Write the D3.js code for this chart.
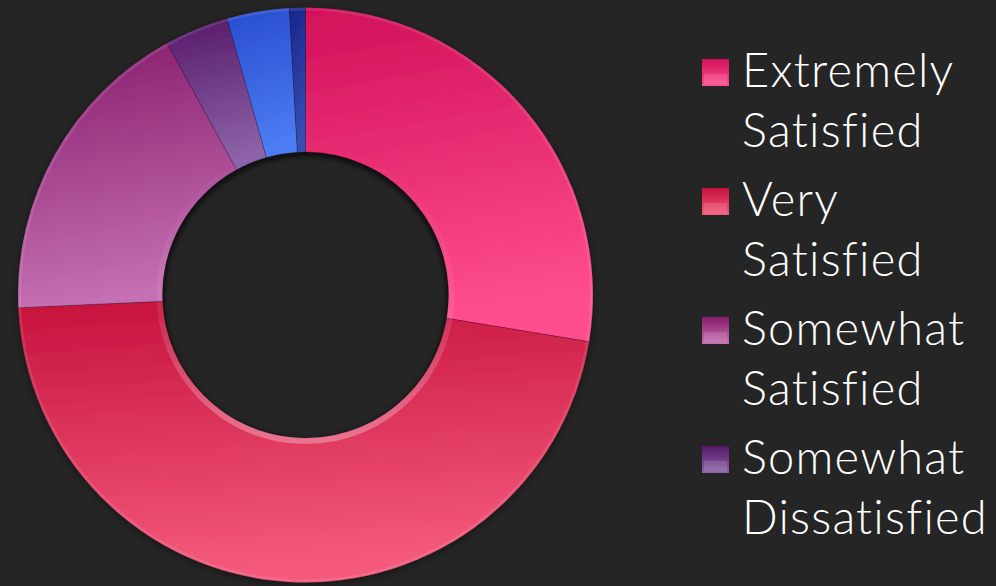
<!DOCTYPE html>
<html>
<head>
<meta charset="utf-8">
<script src="https://cdn.jsdelivr.net/npm/d3@7"></script>
<style>
  html, body { margin: 0; padding: 0; background: #252525; overflow: hidden; }
  svg { display: block; }
</style>
</head>
<body>
<svg id="chart" width="996" height="586"></svg>
<script>
// Survey responses: share of respondents (%) by satisfaction level
const categories = [
  "Extremely Satisfied",
  "Very Satisfied",
  "Somewhat Satisfied",
  "Somewhat Dissatisfied",
  "Very Dissatisfied",
  "Extremely Dissatisfied"
];
const legendLines = [
  ["Extremely", "Satisfied"],
  ["Very", "Satisfied"],
  ["Somewhat", "Satisfied"],
  ["Somewhat", "Dissatisfied"],
  ["Very", "Dissatisfied"],
  ["Extremely", "Dissatisfied"]
];
const values = [27.6, 46.7, 17.7, 3.6, 3.5, 0.9];
// gradient stops per slice: darker top, lighter bottom
const topColors    = ["#d2105a", "#c5123c", "#871c6c", "#561868", "#274cce", "#18248a"];
const bottomColors = ["#ff4e8e", "#f55a7b", "#c56fb2", "#8c62a8", "#4c7cf2", "#3650b4"];

const W = 996, H = 586;
const cx = 305.5, cy = 295;
const outerR = 287.5, innerR = 143;

const svg = d3.select("#chart");
svg.append("rect").attr("width", W).attr("height", H).attr("fill", "#252525");

const defs = svg.append("defs");

categories.forEach((c, i) => {
  const g = defs.append("linearGradient")
    .attr("id", "grad" + i)
    .attr("x1", 0).attr("y1", 0).attr("x2", 0.15).attr("y2", 1);
  g.append("stop").attr("offset", "0%").attr("stop-color", topColors[i]);
  g.append("stop").attr("offset", "100%").attr("stop-color", bottomColors[i]);

  const lg = defs.append("linearGradient")
    .attr("id", "lgrad" + i)
    .attr("x1", 0).attr("y1", 0).attr("x2", 0).attr("y2", 1);
  lg.append("stop").attr("offset", "0%").attr("stop-color", topColors[i]);
  lg.append("stop").attr("offset", "100%").attr("stop-color", bottomColors[i]);
});

const shadow = defs.append("filter").attr("id", "shadow")
  .attr("x", "-10%").attr("y", "-10%").attr("width", "120%").attr("height", "120%");
shadow.append("feDropShadow")
  .attr("dx", 0).attr("dy", 2).attr("stdDeviation", 4)
  .attr("flood-color", "#000").attr("flood-opacity", 0.45);

const soft = defs.append("filter").attr("id", "soft")
  .attr("x", "-20%").attr("y", "-20%").attr("width", "140%").attr("height", "140%");
soft.append("feGaussianBlur").attr("stdDeviation", 2.5);

defs.append("clipPath").attr("id", "holeClip")
  .append("circle").attr("cx", cx).attr("cy", cy).attr("r", innerR);

// rim light on the inner edge, brighter toward the bottom
const rimGrad = defs.append("linearGradient")
  .attr("id", "innerRim").attr("x1", 0).attr("y1", 0).attr("x2", 0).attr("y2", 1);
rimGrad.append("stop").attr("offset", "0%").attr("stop-color", "#fff").attr("stop-opacity", 0.0);
rimGrad.append("stop").attr("offset", "55%").attr("stop-color", "#fff").attr("stop-opacity", 0.08);
rimGrad.append("stop").attr("offset", "100%").attr("stop-color", "#fff").attr("stop-opacity", 0.3);

const pie = d3.pie().sort(null).value(d => d).startAngle(0).endAngle(2 * Math.PI);
const arcs = pie(values);

const arc = d3.arc().innerRadius(innerR).outerRadius(outerR);
const outerRim = d3.arc().innerRadius(outerR - 3).outerRadius(outerR);

const donut = svg.append("g").attr("transform", `translate(${cx},${cy})`);

const slices = donut.append("g").attr("filter", "url(#shadow)");
slices.selectAll("path.slice")
  .data(arcs)
  .join("path")
  .attr("class", "slice")
  .attr("d", arc)
  .attr("fill", (d, i) => `url(#grad${i})`)
  .attr("stroke", "rgba(40,10,40,0.35)")
  .attr("stroke-width", 0.8);

// bevel highlights on the outer and inner edges
donut.append("g").selectAll("path")
  .data(arcs)
  .join("path")
  .attr("d", outerRim)
  .attr("fill", "#fff")
  .attr("fill-opacity", 0.1);

donut.append("path")
  .attr("d", d3.arc().innerRadius(innerR).outerRadius(innerR + 6).startAngle(0).endAngle(2 * Math.PI)())
  .attr("fill", "url(#innerRim)");

// inner shadow inside the hole, stronger near the top
const holeShadow = svg.append("g").attr("clip-path", "url(#holeClip)");
holeShadow.append("circle")
  .attr("cx", cx).attr("cy", cy + 3).attr("r", innerR + 2)
  .attr("fill", "none")
  .attr("stroke", "#000")
  .attr("stroke-opacity", 0.55)
  .attr("stroke-width", 6)
  .attr("filter", "url(#soft)");

// legend: entries are stacked until the frame runs out of room
const legendX = 702, legendY0 = 59, itemStep = 129, lineStep = 60, sw = 27;
const itemBottom = i => legendY0 + i * itemStep + 28 + lineStep + 14;
const shown = categories.map((c, i) => i).filter(i => itemBottom(i) <= H);

const legend = svg.append("g");
const items = legend.selectAll("g.item")
  .data(shown)
  .join("g")
  .attr("class", "item")
  .attr("transform", i => `translate(${legendX},${legendY0 + i * itemStep})`);

items.append("rect")
  .attr("width", sw).attr("height", sw)
  .attr("fill", i => `url(#lgrad${i})`);
items.append("rect")
  .attr("x", 2).attr("y", sw * 0.55).attr("width", sw - 4).attr("height", sw * 0.4)
  .attr("fill", "#fff").attr("fill-opacity", 0.12);

items.each(function(i) {
  const t = d3.select(this).append("text")
    .attr("x", 40)
    .attr("y", 28)
    .attr("fill", "#ffffff")
    .attr("font-family", "Lato, 'Open Sans', sans-serif")
    .attr("font-weight", 300)
    .attr("font-size", 47)
    .attr("letter-spacing", 1.2);
  legendLines[i].forEach((line, k) => {
    t.append("tspan").attr("x", 40).attr("dy", k === 0 ? 0 : lineStep).text(line);
  });
});
</script>
</body>
</html>
